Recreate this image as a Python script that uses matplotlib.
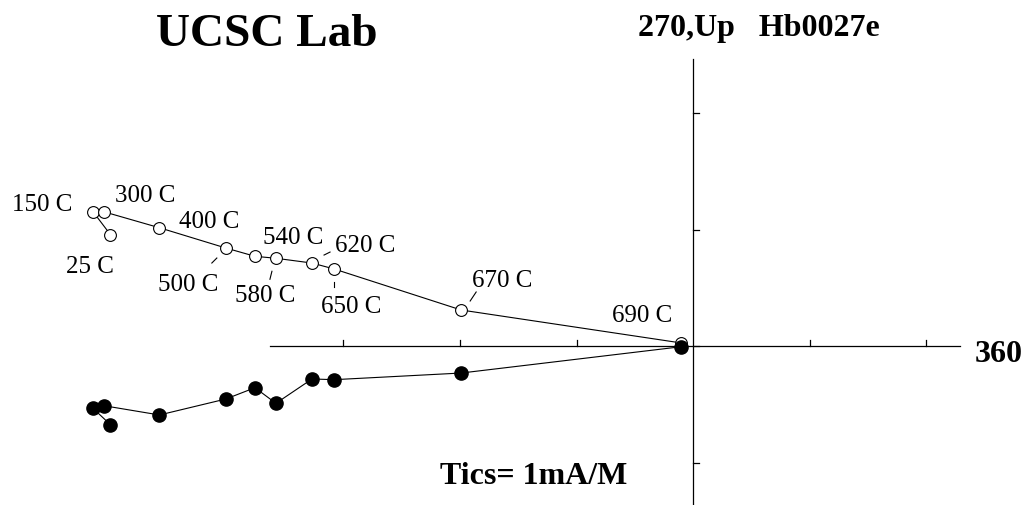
#!/usr/bin/env python3
"""
Zijderveld plot, sample Hb0027e (UCSC Lab).
Open circles = vertical projection (Up), filled = horizontal projection.
Units: mA/m, one tick per 1 mA/m.
"""
import matplotlib
matplotlib.use('Agg')
import matplotlib.pyplot as plt

# --- data (mA/m) -----------------------------------------------------------
steps = ['25 C', '150 C', '300 C', '400 C', '500 C', '540 C',
         '580 C', '620 C', '650 C', '670 C', '690 C']
x_comp = [-5.00, -5.15, -5.06, -4.58, -4.01, -3.76, -3.58, -3.27, -3.08, -1.99, -0.10]
up_comp = [0.955, 1.153, 1.153, 1.015, 0.841, 0.770, 0.753, 0.712, 0.661, 0.309, 0.026]
hz_comp = [-0.676, -0.535, -0.512, -0.592, -0.455, -0.358, -0.492, -0.283, -0.289, -0.232, -0.006]

x_ticks = [-3, -2, -1, 0, 1, 2]
y_ticks = [-1, 0, 1, 2]

# --- label placement (pixel offsets from the point, +dy = down) -------------
label_off = {
    '25 C':  (3, 31, 'right'),
    '150 C': (-21, -8, 'right'),
    '300 C': (11, -17, 'left'),
    '400 C': (20, -7, 'left'),
    '500 C': (-7, 36, 'right'),
    '540 C': (8, -19, 'left'),
    '580 C': (-11, 37, 'center'),
    '620 C': (23, -18, 'left'),
    '650 C': (-13, 37, 'left'),
    '670 C': (11, -30, 'left'),
    '690 C': (-9, -28, 'right'),
}
leaders = {
    '500 C': ((-14, 15), (-9, 10)),
    '580 C': ((-6, 21), (-4, 13)),
    '620 C': ((12, -8), (18, -11)),
    '650 C': ((0, 13), (0, 18)),
    '670 C': ((9, -9), (15, -18)),
}

W, H, DPI = 1028, 506, 100
PX = 116.5                      # pixels per tick (1 mA/m)
X0, Y0 = 693, 347               # origin in pixels

SERIF = ['Liberation Serif', 'DejaVu Serif']

fig = plt.figure(figsize=(W / DPI, H / DPI), dpi=DPI)
ax = fig.add_axes([0, 0, 1, 1])
ax.set_xlim(-X0 / PX, (W - X0) / PX)
ax.set_ylim(-(H - Y0) / PX, Y0 / PX)
ax.axis('off')

# axes cross
ax.plot([(270 - X0) / PX, (960 - X0) / PX], [0, 0], color='black', lw=0.9)
ax.plot([0, 0], [-(H - Y0 + 2) / PX, (Y0 - 60) / PX], color='black', lw=0.9)
tl = 6 / PX
for t in x_ticks:
    if t != 0:
        ax.plot([t, t], [0, tl], color='black', lw=0.9)
for t in y_ticks:
    ax.plot([0, tl], [t, t], color='black', lw=0.9)

# projections
ax.plot(x_comp, up_comp, color='black', lw=0.8, zorder=2)
ax.plot(x_comp, up_comp, 'o', ms=8.5, mfc='white', mec='black', mew=0.8, zorder=3)
ax.plot(x_comp, hz_comp, color='black', lw=0.8, zorder=2)
ax.plot(x_comp, hz_comp, 'o', ms=9.5, mfc='black', mec='black', zorder=4)

# step labels
for name, x, y in zip(steps, x_comp, up_comp):
    dx, dy, ha = label_off[name]
    ax.annotate(name, (x, y), xytext=(dx, -dy), textcoords='offset pixels',
                ha=ha, va='center', fontsize=18, family=SERIF)
    if name in leaders:
        (a, b), (c, d) = leaders[name]
        ax.plot([x + a / PX, x + c / PX], [y - b / PX, y - d / PX],
                color='black', lw=0.8)

# text
def ftext(px, py, s, size, **kw):
    fig.text(px / W, 1 - py / H, s, fontsize=size, family=SERIF,
             fontweight='bold', va='baseline', **kw)

ftext(267, 46, 'UCSC Lab', 34, ha='center')
ftext(638, 36, '270,Up   Hb0027e', 23, ha='left')
ftext(975, 362, '360', 23, ha='left')
ftext(440, 484, 'Tics= 1mA/M', 23, ha='left')

fig.savefig('out.png', dpi=DPI, facecolor='white')
